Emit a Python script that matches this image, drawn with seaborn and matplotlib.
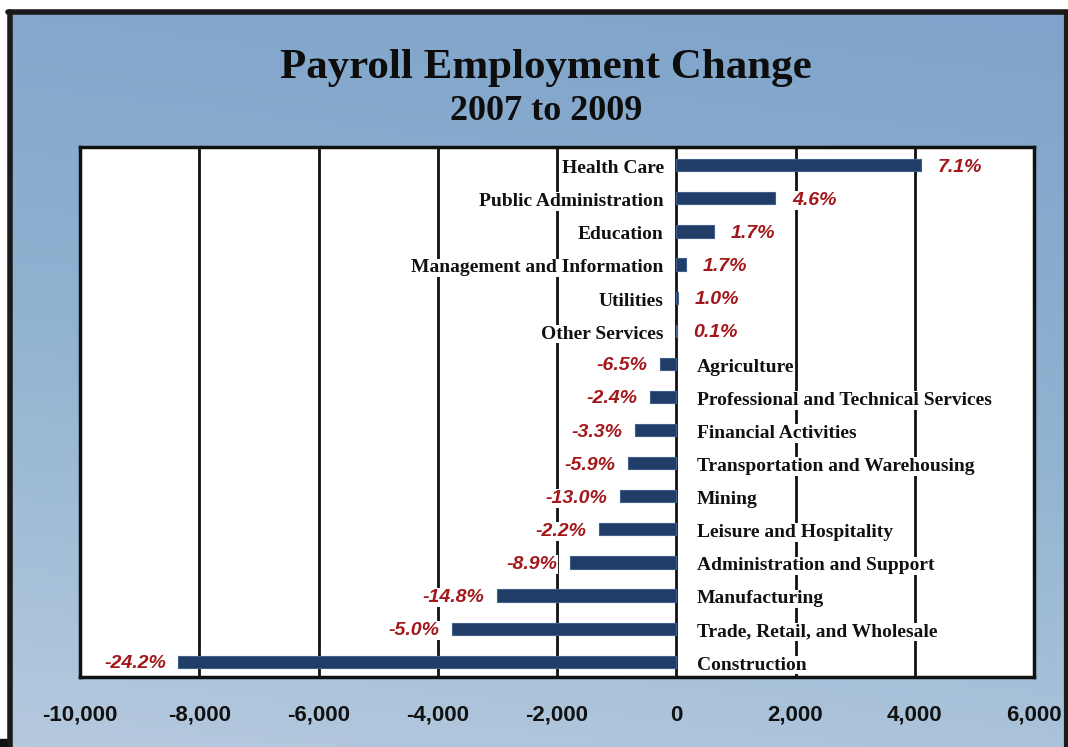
import numpy as np
import pandas as pd
import matplotlib
matplotlib.use("Agg")
import matplotlib.pyplot as plt
from matplotlib.colors import LinearSegmentedColormap
from matplotlib.lines import Line2D
import seaborn as sns

# Change in payroll employment by industry, 2007 to 2009 (thousands of jobs)
industries = [
    "Health Care", "Public Administration", "Education",
    "Management and Information", "Utilities", "Other Services",
    "Agriculture", "Professional and Technical Services",
    "Financial Activities", "Transportation and Warehousing", "Mining",
    "Leisure and Hospitality", "Administration and Support",
    "Manufacturing", "Trade, Retail, and Wholesale", "Construction",
]
job_change = [4100, 1660, 640, 160, 35, 10,
              -270, -440, -690, -810, -940, -1290, -1780, -3010, -3760, -8350]
pct_change = [7.1, 4.6, 1.7, 1.7, 1.0, 0.1,
              -6.5, -2.4, -3.3, -5.9, -13.0, -2.2, -8.9, -14.8, -5.0, -24.2]
x_ticks = [-10000, -8000, -6000, -4000, -2000, 0, 2000, 4000, 6000]

df = pd.DataFrame({"industry": industries, "change": job_change, "pct": pct_change})

sns.set_theme(style="white")
plt.rcParams["font.family"] = ["Liberation Serif", "DejaVu Serif"]

SERIF = dict(family="Liberation Serif", weight="bold")
PCT = dict(family="Liberation Sans", weight="bold", style="italic")
NAVY = "#1f3d66"
RED = "#a3161a"
INK = "#111111"

W, H = 1068, 747
fig = plt.figure(figsize=(W / 100, H / 100), dpi=100)
fig.patch.set_facecolor("white")

# blue gradient backdrop inside the frame
bg = fig.add_axes([8 / W, 0, 1 - 8 / W, 1 - 12 / H], zorder=-10)
yy, xx = np.mgrid[0:1:300j, 0:1:300j]
grad = 0.85 * yy + 0.15 * (1 - xx)
cmap = LinearSegmentedColormap.from_list("bgblue", ["#7fa3ca", "#90b3d1", "#b5c9de"])
bg.imshow(grad, cmap=cmap, aspect="auto", extent=[0, 1, 1, 0], interpolation="bilinear")
bg.set_axis_off()

# dark frame lines
fig.add_artist(Line2D([9.5 / W, 9.5 / W], [0, 1 - 12 / H], color="#1a1a1a", lw=4, transform=fig.transFigure))
fig.add_artist(Line2D([8 / W, 1], [1 - 12 / H, 1 - 12 / H], color="#1a1a1a", lw=4, transform=fig.transFigure))
fig.add_artist(Line2D([1065.5 / W, 1065.5 / W], [0, 1 - 12 / H], color="#1a1a1a", lw=3, transform=fig.transFigure))

ax = fig.add_axes([80 / W, 1 - 677 / H, 954 / W, 530 / H])
ax.set_facecolor("white")

sns.barplot(data=df, x="change", y="industry", orient="h", color=NAVY,
            width=0.37, ax=ax, zorder=3, saturation=1,
            edgecolor="#3d5f8a", linewidth=0.8)

ax.set_xlim(-10000, 6000)
ax.set_ylim(15.46, -0.55)
ax.set_xticks(x_ticks)
ax.set_xticklabels([f"{t:,}" for t in x_ticks], family="Liberation Sans",
                   weight="bold", fontsize=16, color=INK)
ax.tick_params(axis="x", length=0, pad=20)
ax.set_yticks([])
ax.set_xlabel("")
ax.set_ylabel("")
for t in x_ticks[1:-1]:
    ax.axvline(t, color=INK, lw=2, zorder=1)
for s in ax.spines.values():
    s.set_visible(True)
    s.set_color(INK)
    s.set_linewidth(2.5)

label_box = dict(facecolor="white", edgecolor="none", pad=0.5)
for i, (name, val, pct) in enumerate(zip(industries, job_change, pct_change)):
    if val >= 0:
        ax.annotate(name, (0, i), xytext=(-9, -1), textcoords="offset points",
                    ha="right", va="center_baseline", fontsize=14, color=INK,
                    bbox=label_box, zorder=4, **SERIF)
        ax.annotate(f"{pct:.1f}%", (val, i), xytext=(12, 0), textcoords="offset points",
                    ha="left", va="center_baseline", fontsize=14, color=RED,
                    bbox=label_box, zorder=4, **PCT)
    else:
        ax.annotate(name, (0, i), xytext=(15, -1), textcoords="offset points",
                    ha="left", va="center_baseline", fontsize=14, color=INK,
                    bbox=label_box, zorder=4, **SERIF)
        ax.annotate(f"{pct:.1f}%", (val, i), xytext=(-9, 0), textcoords="offset points",
                    ha="right", va="center_baseline", fontsize=14, color=RED,
                    bbox=label_box, zorder=4, **PCT)

fig.text(546 / W, 1 - 68 / H, "Payroll Employment Change", ha="center", va="center",
         fontsize=31, color="#0d0d0d", **SERIF)
fig.text(546 / W, 1 - 111 / H, "2007 to 2009", ha="center", va="center",
         fontsize=26, color="#0d0d0d", **SERIF)

# small dark corner mark
fig.add_artist(plt.Rectangle((0, 0), 8 / W, 8 / H, color="#111111", transform=fig.transFigure))

fig.savefig("out.png", dpi=100)
